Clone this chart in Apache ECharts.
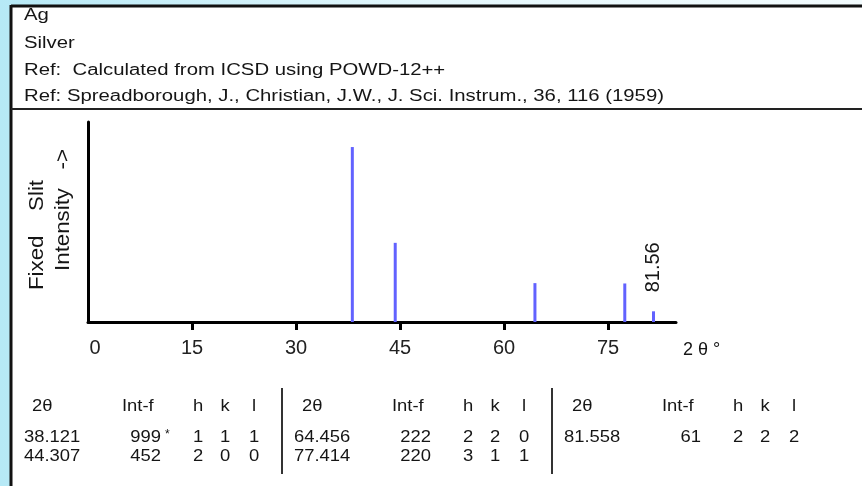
<!DOCTYPE html>
<html><head><meta charset="utf-8">
<script src="https://cdn.jsdelivr.net/npm/echarts@6/dist/echarts.min.js"></script>
<style>html,body{margin:0;padding:0;width:862px;height:486px;overflow:hidden;background:#fff}#c{width:862px;height:486px}</style>
</head><body><div id="c"></div><script>
// ---- data ----
const headerLines = ['Ag', 'Silver', 'Ref:  Calculated from ICSD using POWD-12++', 'Ref: Spreadborough, J., Christian, J.W., J. Sci. Instrum., 36, 116 (1959)'];
const twoTheta = [38.121, 44.307, 64.456, 77.414, 81.558];
const intensity = [999, 452, 222, 220, 61];
const intFlag = ['*', '', '', '', ''];
const hIdx = [1, 2, 2, 3, 2];
const kIdx = [1, 0, 2, 1, 2];
const lIdx = [1, 0, 0, 1, 2];
const xTicks = [0, 15, 30, 45, 60, 75];
const tableHeads = ['2θ', 'Int-f', 'h', 'k', 'l'];
const yAxisTitle = ['Fixed    Slit', 'Intensity   ->'];
const xAxisTitle = '2 θ °';

// ---- layout / style ----
const FF = '"Liberation Sans", Arial, sans-serif';
const TXT = '#151515';
const g = [];
g.push({type:'rect', shape:{x:0,y:0,width:862,height:486}, style:{fill:new echarts.graphic.LinearGradient(0,0,1,0,[{offset:0,color:'#b6e9f6'},{offset:0.5,color:'#e4f7fc'},{offset:1,color:'#f2fbfd'}])}, silent:true});
g.push({type:'rect', shape:{x:11,y:6,width:851,height:480}, style:{fill:'#ffffff'}, silent:true});
g.push({type:'line', shape:{x1:11,y1:6,x2:862,y2:6}, style:{stroke:'#111',lineWidth:3}, silent:true});
g.push({type:'line', shape:{x1:11,y1:5,x2:11,y2:486}, style:{stroke:'#111',lineWidth:3}, silent:true});
g.push({type:'line', shape:{x1:11,y1:109,x2:862,y2:109}, style:{stroke:'#222',lineWidth:2}, silent:true});
const headerY = [16, 44, 71, 97];
headerLines.forEach((t,i)=>{
  g.push({type:'text', x:24, y:headerY[i], scaleX:1.27, silent:true, style:{text:t, fill:TXT, font:'16px '+FF, align:'left', verticalAlign:'middle'}});
});
// y axis title (rotated)
g.push({type:'text', x:37, y:235, rotation:Math.PI/2, scaleX:1.06, silent:true, style:{text:yAxisTitle[0], fill:TXT, font:'21px '+FF, align:'center', verticalAlign:'middle'}});
g.push({type:'text', x:63, y:210, rotation:Math.PI/2, scaleX:1.06, silent:true, style:{text:yAxisTitle[1], fill:TXT, font:'21px '+FF, align:'center', verticalAlign:'middle'}});
// x axis title
g.push({type:'text', x:683, y:350, silent:true, style:{text:xAxisTitle, fill:TXT, font:'18px '+FF, align:'left', verticalAlign:'middle'}});

// table
const rowsPerGroup = 2;
const nGroups = Math.ceil(twoTheta.length / rowsPerGroup);
const headY = 407, rowY = [438, 457];
const colOff = {tt:0, ttHead:8, intHead:98, intData:137, flag:141, h:174, k:201, l:230};
const tSty = (t, align) => ({text:t, fill:TXT, font:'16px '+FF, align:align, verticalAlign:'middle'});
for (let gi = 0; gi < nGroups; gi++) {
  const x0 = 24 + gi*270;
  if (gi > 0) g.push({type:'line', shape:{x1:x0-12,y1:388,x2:x0-12,y2:474}, style:{stroke:'#333',lineWidth:2}, silent:true});
  g.push({type:'text', x:x0+colOff.ttHead, y:headY, scaleX:1.15, silent:true, style:tSty(tableHeads[0],'left')});
  g.push({type:'text', x:x0+colOff.intHead, y:headY, scaleX:1.15, silent:true, style:tSty(tableHeads[1],'left')});
  g.push({type:'text', x:x0+colOff.h, y:headY, scaleX:1.15, silent:true, style:tSty(tableHeads[2],'center')});
  g.push({type:'text', x:x0+colOff.k, y:headY, scaleX:1.15, silent:true, style:tSty(tableHeads[3],'center')});
  g.push({type:'text', x:x0+colOff.l, y:headY, scaleX:1.15, silent:true, style:tSty(tableHeads[4],'center')});
  for (let r = 0; r < rowsPerGroup; r++) {
    const i = gi*rowsPerGroup + r;
    if (i >= twoTheta.length) break;
    const y = rowY[r];
    g.push({type:'text', x:x0+colOff.tt, y:y, scaleX:1.15, silent:true, style:tSty(twoTheta[i].toFixed(3),'left')});
    g.push({type:'text', x:x0+colOff.intData, y:y, scaleX:1.15, silent:true, style:tSty(String(intensity[i]),'right')});
    if (intFlag[i]) g.push({type:'text', x:x0+colOff.flag, y:y-3, silent:true, style:{text:intFlag[i], fill:TXT, font:'12px '+FF, align:'left', verticalAlign:'middle'}});
    g.push({type:'text', x:x0+colOff.h, y:y, scaleX:1.15, silent:true, style:tSty(String(hIdx[i]),'center')});
    g.push({type:'text', x:x0+colOff.k, y:y, scaleX:1.15, silent:true, style:tSty(String(kIdx[i]),'center')});
    g.push({type:'text', x:x0+colOff.l, y:y, scaleX:1.15, silent:true, style:tSty(String(lIdx[i]),'center')});
  }
}

const last = twoTheta.length - 1;
const barData = twoTheta.map((t,i)=>{
  const d = {value:[t, intensity[i]]};
  if (i === last) d.label = {show:true, position:'top', distance:19, rotate:90, align:'left', verticalAlign:'middle',
    formatter:p=>p.value[0].toFixed(2), fontSize:20, fontFamily:FF, color:TXT};
  return d;
});

const chart = echarts.init(document.getElementById('c'), null, {renderer:'canvas'});
chart.setOption({
  animation:false,
  graphic:{elements:g},
  grid:{left:88, top:122, width:588, height:200, outerBoundsMode:'none', containLabel:false},
  xAxis:{type:'value', min:0, max:84.8, interval:15,
    axisLine:{show:true, lineStyle:{color:'#000', width:3}},
    axisTick:{show:true, customValues:xTicks.filter(v=>v>0), length:8, lineStyle:{color:'#000', width:3}},
    axisLabel:{customValues:xTicks, margin:16, fontSize:20, fontFamily:FF, color:'#222',
      formatter:v=> v===0 ? '{z|0}' : String(v),
      rich:{z:{padding:[0,0,0,14], fontSize:20, fontFamily:FF, color:'#222'}}},
    splitLine:{show:false}},
  yAxis:{type:'value', min:0, max:1142,
    axisLine:{show:true, lineStyle:{color:'#000', width:3}},
    axisTick:{show:false}, axisLabel:{show:false}, splitLine:{show:false}},
  series:[{type:'bar', data:barData, barWidth:3, itemStyle:{color:'#6262ff'}, silent:true}]
});
</script></body></html>
